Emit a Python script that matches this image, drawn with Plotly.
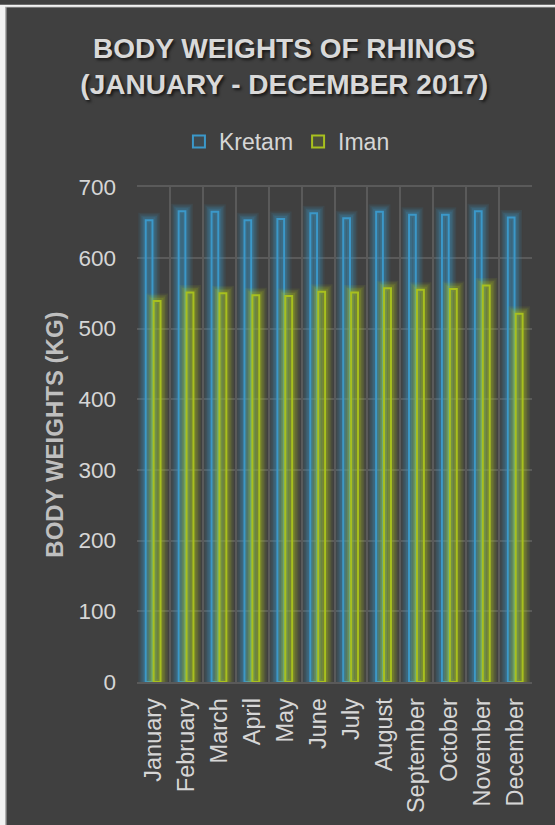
import plotly.graph_objects as go

# Monthly body weights (kg) of two rhinos, 2017
months = ["January", "February", "March", "April", "May", "June",
          "July", "August", "September", "October", "November", "December"]
kretam = [653, 666, 665, 653, 655, 663, 656, 665, 661, 661, 666, 657]
iman = [539, 551, 550, 547, 546, 552, 551, 557, 555, 556, 561, 521]
y_ticks = [0, 100, 200, 300, 400, 500, 600, 700]

BG = "#404040"
GRID = "#5A5A5A"
TEXT = "#D6D6D6"
FONT = "Liberation Sans, Arial, sans-serif"

W, H = 555, 825
ML, MR, MT, MB = 137, 23, 184, 142
PW, PH = W - ML - MR, H - MT - MB

series = [
    ("Kretam", kretam, (59, 152, 201), -0.235, 0.205),
    ("Iman", iman, (168, 192, 30), 0.005, 0.21),
]

fig = go.Figure()
for name, vals, (r, g, b), off, wid in series:
    # soft glow around each bar: stacked translucent outlines
    for lw, a in [(15, 0.09), (12, 0.12), (9, 0.16), (6, 0.20)]:
        fig.add_trace(go.Bar(
            x=months, y=vals, offset=off, width=wid,
            marker=dict(color="rgba(0,0,0,0)",
                        line=dict(color=f"rgba({r},{g},{b},{a})", width=lw)),
            showlegend=False, hoverinfo="skip",
        ))
    fig.add_trace(go.Bar(
        x=months, y=vals, name=name, offset=off, width=wid,
        marker=dict(color=f"rgba({r},{g},{b},0.12)",
                    line=dict(color=f"rgb({r},{g},{b})", width=2)),
    ))


def px_x(p):
    return (p - ML) / PW


def px_y(p):
    return 1 - (p - MT) / PH


shapes = [
    # light frame strips on the left and top edges
    dict(type="rect", xref="paper", yref="paper", layer="below",
         x0=px_x(0), x1=px_x(W + 20), y0=px_y(0), y1=px_y(H + 20),
         fillcolor="#F2F2F2", line_width=0),
    dict(type="rect", xref="paper", yref="paper", layer="below",
         x0=px_x(5), x1=px_x(W + 20), y0=px_y(2), y1=px_y(H + 20),
         fillcolor="#B0B0B0", line_width=0),
    dict(type="rect", xref="paper", yref="paper", layer="below",
         x0=px_x(6.5), x1=px_x(W + 20), y0=px_y(3), y1=px_y(H + 20),
         fillcolor=BG, line_width=0),
]

fig.update_layout(
    width=W, height=H,
    margin=dict(l=ML, r=MR, t=MT, b=MB),
    paper_bgcolor=BG, plot_bgcolor=BG,
    barmode="overlay",
    font=dict(family=FONT, color=TEXT, size=22),
    shapes=shapes,
    title=dict(
        text="BODY WEIGHTS OF RHINOS<br>(JANUARY - DECEMBER 2017)",
        x=0.512, xref="container", xanchor="center",
        y=1 - 58 / H, yref="container", yanchor="top",
        font=dict(family=FONT, size=28, color="#D9D9D9", weight="bold",
                  shadow="2px 2px 3px rgba(0,0,0,0.65)"),
    ),
    legend=dict(
        orientation="h", xref="container", yref="container",
        x=0.517, xanchor="center", y=1 - 141.5 / H, yanchor="middle",
        font=dict(family=FONT, size=23, color=TEXT),
        bgcolor="rgba(0,0,0,0)", itemwidth=30, tracegroupgap=0,
    ),
    xaxis=dict(
        type="category", tickson="boundaries", ticks="",
        showgrid=True, gridcolor=GRID, gridwidth=1.5,
        showline=True, linecolor=GRID, linewidth=1.5, mirror=True,
        tickangle=-90, ticklabelstandoff=5,
        tickfont=dict(family=FONT, size=23.5, color=TEXT),
        range=[-0.5, 11.5],
    ),
    yaxis=dict(
        range=[0, 700], tickvals=y_ticks, ticks="",
        showgrid=True, gridcolor=GRID, gridwidth=1.5, zeroline=False,
        ticklabelstandoff=20,
        tickfont=dict(family=FONT, size=22.5, color=TEXT),
        title=dict(text="BODY WEIGHTS (KG)", standoff=8,
                   font=dict(family=FONT, size=24, color="#BFBFBF",
                             weight="bold")),
    ),
)

fig.write_html("out.html")
